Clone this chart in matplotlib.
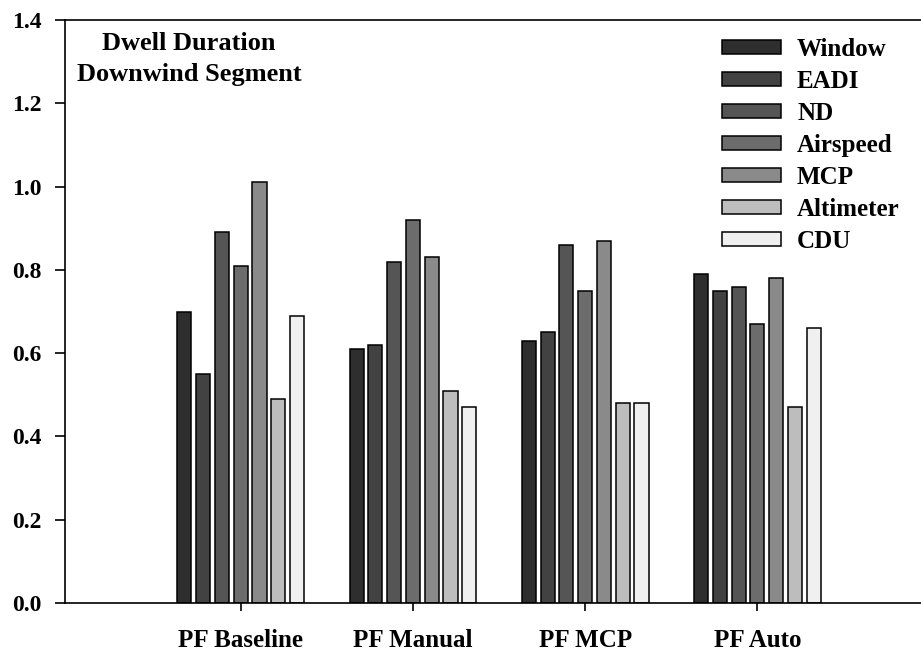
import matplotlib
matplotlib.use("Agg")
import matplotlib.pyplot as plt
import numpy as np

categories = ["PF Baseline", "PF Manual", "PF MCP", "PF Auto"]
series = ["Window", "EADI", "ND", "Airspeed", "MCP", "Altimeter", "CDU"]
window = [0.70, 0.61, 0.63, 0.79]
eadi = [0.55, 0.62, 0.65, 0.75]
nd = [0.89, 0.82, 0.86, 0.76]
airspeed = [0.81, 0.92, 0.75, 0.67]
mcp = [1.01, 0.83, 0.87, 0.78]
altimeter = [0.49, 0.51, 0.48, 0.47]
cdu = [0.69, 0.47, 0.48, 0.66]
values = [window, eadi, nd, airspeed, mcp, altimeter, cdu]
colors = ["#2e2e2e", "#424242", "#555555", "#6c6c6c", "#8a8a8a", "#bdbdbd", "#f0f0f0"]
yticks = [0.0, 0.2, 0.4, 0.6, 0.8, 1.0, 1.2, 1.4]

plt.rcParams['font.family'] = ['Liberation Serif', 'DejaVu Serif']
plt.rcParams['font.weight'] = 'bold'

fig = plt.figure(figsize=(9.21, 6.52), dpi=100)
ax = fig.add_axes([65/921, 1-603/652, 1-65/921, (603-20)/652])

x = np.arange(len(categories))
pitch = 0.109
width = 0.082
for i, (name, vals, c) in enumerate(zip(series, values, colors)):
    ax.bar(x + (i - 3) * pitch, vals, width, color=c, edgecolor="black",
           linewidth=1.1, label=name, zorder=2)

ax.set_xlim(-1.02, 3.95)
ax.set_ylim(0, 1.4)
ax.set_yticks(yticks)
ax.set_yticklabels([f"{v:.1f}" for v in yticks], fontsize=17, fontweight='bold')
ax.set_xticks(x)
ax.set_xticklabels(categories, fontsize=18, fontweight='bold')
ax.tick_params(axis='y', direction='out', length=7, width=1.2, pad=10)
ax.tick_params(axis='x', direction='out', length=6, width=1.2, pad=12.5)
for s in ['left', 'bottom', 'top']:
    ax.spines[s].set_linewidth(1.2)
ax.spines['right'].set_visible(False)

fig.text(189/921, 1-43/652, "Dwell Duration", ha='center', va='center',
         fontsize=19, fontweight='bold')
fig.text(189/921, 1-75/652, "Downwind Segment", ha='center', va='center',
         fontsize=19, fontweight='bold')

leg = ax.legend(loc='upper left', bbox_to_anchor=(722/921, 1-38/652),
                bbox_transform=fig.transFigure, frameon=False,
                prop={'size': 18, 'weight': 'bold'}, borderpad=0,
                borderaxespad=0, handlelength=2.36, handleheight=0.45,
                handletextpad=0.64, labelspacing=0.36)

fig.savefig("out.png", dpi=100)
